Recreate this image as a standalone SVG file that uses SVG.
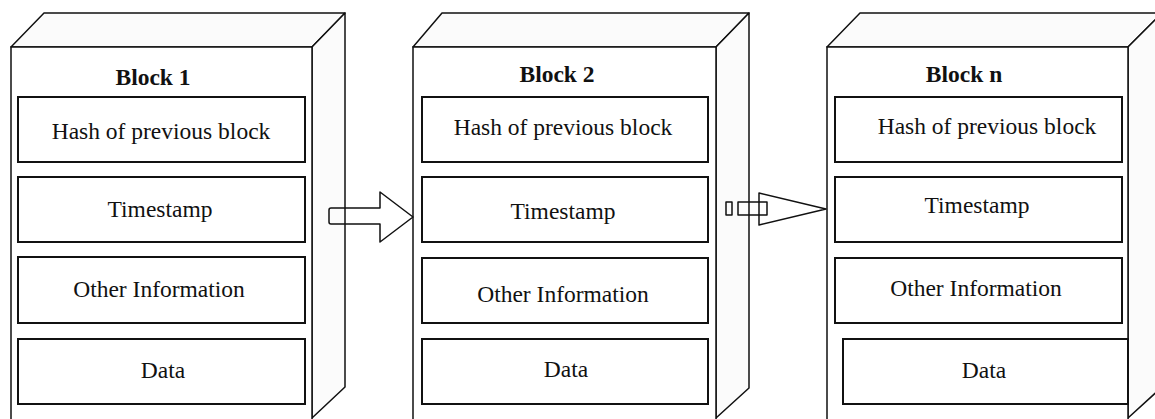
<svg xmlns="http://www.w3.org/2000/svg" width="1155" height="419" viewBox="0 0 1155 419">
<style>
.face{fill:#fbfbfb;stroke:#111;stroke-width:1.5;stroke-linejoin:round}
.front{fill:#fff;stroke:#111;stroke-width:1.5}
.box{fill:#fff;stroke:#111;stroke-width:2}
.t{font-family:"Liberation Serif","Times New Roman",serif;font-size:23.5px;fill:#111;text-anchor:middle}
.b{font-weight:bold}
.arrow{fill:none;stroke:#111;stroke-width:1.5;stroke-linejoin:round}
</style>
<rect width="1155" height="419" fill="#fff"/>
<g id="block1">
<polygon class="face" points="11,47 44,13 345,13 312,47"/>
<polygon class="face" points="312,47 345,13 345,387 312,418"/>
<rect class="front" x="11" y="47" width="301" height="380"/>
<text class="t b" x="153" y="85">Block 1</text>
<rect class="box" x="18" y="97" width="287" height="65"/>
<text class="t" x="161" y="139">Hash of previous block</text>
<rect class="box" x="18" y="177" width="287" height="65"/>
<text class="t" x="160" y="217">Timestamp</text>
<rect class="box" x="18" y="257" width="287" height="66"/>
<text class="t" x="159" y="297">Other Information</text>
<rect class="box" x="18" y="339" width="287" height="65"/>
<text class="t" x="163" y="378">Data</text>
</g>
<g id="block2">
<polygon class="face" points="413,47 442,13 749,13 716,47"/>
<polygon class="face" points="716,47 749,13 749,388 716,418"/>
<rect class="front" x="413" y="47" width="303" height="380"/>
<text class="t b" x="557" y="82">Block 2</text>
<rect class="box" x="422" y="97" width="286" height="65"/>
<text class="t" x="563" y="135">Hash of previous block</text>
<rect class="box" x="422" y="177" width="286" height="65"/>
<text class="t" x="563" y="219">Timestamp</text>
<rect class="box" x="422" y="258" width="286" height="65"/>
<text class="t" x="563" y="302">Other Information</text>
<rect class="box" x="422" y="339" width="286" height="65"/>
<text class="t" x="566" y="377">Data</text>
</g>
<g id="blockn">
<polygon class="face" points="827,47 860,13 1162,13 1128,47"/>
<polygon class="face" points="1128,47 1162,13 1162,387 1128,418"/>
<rect class="front" x="827" y="47" width="301" height="380"/>
<text class="t b" x="964" y="82">Block n</text>
<rect class="box" x="835" y="97" width="287" height="65"/>
<text class="t" x="987" y="134">Hash of previous block</text>
<rect class="box" x="835" y="177" width="287" height="65"/>
<text class="t" x="977" y="213">Timestamp</text>
<rect class="box" x="835" y="258" width="287" height="65"/>
<text class="t" x="976" y="296">Other Information</text>
<rect class="box" x="843" y="339" width="285" height="65"/>
<text class="t" x="984" y="378">Data</text>
</g>
<g id="connectors">
<path class="arrow" d="M331,208 L380,208 L380,192 L413,217 L380,242 L380,224 L331,224 Q329,224 329,222 L329,210 Q329,208 331,208 Z" stroke-width="2"/>
<rect class="arrow" x="726" y="202" width="6" height="13"/>
<rect class="arrow" x="738" y="202" width="29" height="13"/>
<polygon class="arrow" points="759,193 826,209 759,225"/>
</g>
</svg>
